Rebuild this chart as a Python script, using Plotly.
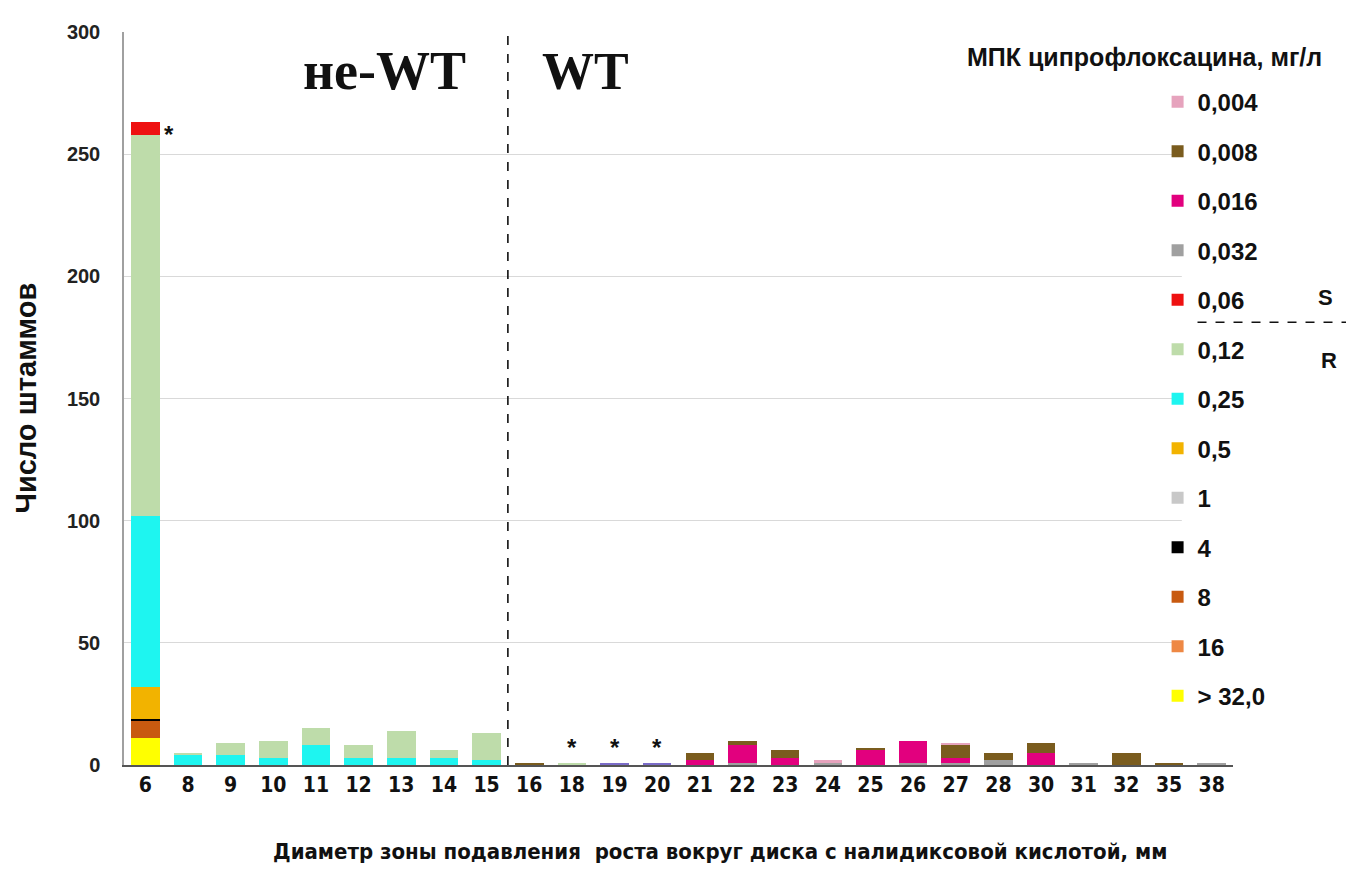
import plotly.graph_objects as go

# Inhibition zone diameter around the nalidixic acid disk, mm
diameters = ["6", "8", "9", "10", "11", "12", "13", "14", "15", "16", "18", "19", "20",
             "21", "22", "23", "24", "25", "26", "27", "28", "30", "31", "32", "35", "38"]

# Number of strains per ciprofloxacin MIC (mg/l), one list per MIC class
mic_gt32 = [11, 0, 0, 0, 0, 0, 0, 0, 0, 0, 0, 0, 0, 0, 0, 0, 0, 0, 0, 0, 0, 0, 0, 0, 0, 0]
mic_16   = [0] * 26
mic_8    = [7, 0, 0, 0, 0, 0, 0, 0, 0, 0, 0, 0, 0, 0, 0, 0, 0, 0, 0, 0, 0, 0, 0, 0, 0, 0]
mic_4    = [1, 0, 0, 0, 0, 0, 0, 0, 0, 0, 0, 0, 0, 0, 0, 0, 0, 0, 0, 0, 0, 0, 0, 0, 0, 0]
mic_1    = [0] * 26
mic_05   = [13, 0, 0, 0, 0, 0, 0, 0, 0, 0, 0, 0, 0, 0, 0, 0, 0, 0, 0, 0, 0, 0, 0, 0, 0, 0]
mic_025  = [70, 4, 4, 3, 8, 3, 3, 3, 2, 0, 0, 0, 0, 0, 0, 0, 0, 0, 0, 0, 0, 0, 0, 0, 0, 0]
mic_012  = [156, 1, 5, 7, 7, 5, 11, 3, 11, 0, 1, 0, 0, 0, 0, 0, 0, 0, 0, 0, 0, 0, 0, 0, 0, 0]
mic_006  = [5, 0, 0, 0, 0, 0, 0, 0, 0, 0, 0, 0, 0, 0, 0, 0, 0, 0, 0, 0, 0, 0, 0, 0, 0, 0]
mic_0032 = [0, 0, 0, 0, 0, 0, 0, 0, 0, 0, 0, 0, 0, 0, 1, 0, 1, 0, 1, 1, 2, 0, 1, 0, 0, 1]
mic_0016 = [0, 0, 0, 0, 0, 0, 0, 0, 0, 0, 0, 0, 0, 2, 7, 3, 0, 6, 9, 2, 0, 5, 0, 0, 0, 0]
mic_0008 = [0, 0, 0, 0, 0, 0, 0, 0, 0, 1, 0, 0, 0, 3, 2, 3, 0, 1, 0, 5, 3, 4, 0, 5, 1, 0]
mic_0004 = [0, 0, 0, 0, 0, 0, 0, 0, 0, 0, 0, 0, 0, 0, 0, 0, 1, 0, 0, 1, 0, 0, 0, 0, 0, 0]
marked   = [0, 0, 0, 0, 0, 0, 0, 0, 0, 0, 0, 1, 1, 0, 0, 0, 0, 0, 0, 0, 0, 0, 0, 0, 0, 0]

# Groups flagged with an asterisk
starred = ["18", "19", "20"]

# Stacked bottom to top
series = [
    ("> 32,0", mic_gt32, "#ffff00"),
    ("16", mic_16, "#ee8844"),
    ("8", mic_8, "#c85a10"),
    ("4", mic_4, "#000000"),
    ("1", mic_1, "#c8c8c8"),
    ("0,5", mic_05, "#f2b300"),
    ("0,25", mic_025, "#1ef5f0"),
    ("0,12", mic_012, "#bedcaa"),
    ("0,06", mic_006, "#ee1111"),
    ("0,032", mic_0032, "#a0a0a0"),
    ("0,016", mic_0016, "#e2007e"),
    ("0,008", mic_0008, "#7a5c1e"),
    ("0,004", mic_0004, "#e6a3bd"),
]

fig = go.Figure()
n = len(series)
for i, (name, vals, color) in enumerate(series):
    fig.add_trace(go.Bar(x=diameters, y=vals, name=name, marker_color=color,
                         marker_line_width=0, legendgroup=f"g{i}", legendrank=n - i))
    if name == "0,06":
        fig.add_trace(go.Bar(x=diameters, y=marked, name="", marker_color="#7b6cc8",
                             marker_line_width=0, showlegend=False))

font_main = "Liberation Sans, Arial, sans-serif"
font_narrow = "Liberation Sans Narrow, DejaVu Sans Condensed, Arial Narrow, sans-serif"
serif = "Liberation Serif, Times New Roman, serif"
ink = "#111111"
last = len(diameters) - 0.5

fig.update_layout(
    width=1346, height=875,
    margin=dict(l=124, r=113, t=32, b=110),
    paper_bgcolor="white", plot_bgcolor="white",
    barmode="stack", bargap=0.33,
    showlegend=True,
    legend=dict(
        x=0.932, xanchor="left", y=0.935, yanchor="top",
        traceorder="grouped", tracegroupgap=15.3,
        font=dict(family=font_main, size=24, color=ink, weight="bold"),
        bgcolor="rgba(0,0,0,0)", itemwidth=30,
    ),
    xaxis=dict(
        type="category", range=[-0.5, last], showgrid=False, showline=True,
        linecolor="#555555", linewidth=1.5,
        ticks="", tickfont=dict(family=font_narrow, size=21, color=ink, weight="bold"),
    ),
    yaxis=dict(
        range=[0, 300], dtick=50, showgrid=True, gridcolor="#d9d9d9", gridwidth=1,
        showline=True, linecolor="#a0a0a0", linewidth=1.5, ticks="", zeroline=False,
        ticklabelstandoff=18,
        tickfont=dict(family=font_main, size=20, color="#222222", weight="bold"),
    ),
)

# White panel behind the legend hides the gridlines there
fig.add_shape(type="rect", xref="x", yref="y", x0=24.3, x1=last, y0=25, y1=300,
              fillcolor="white", line_width=0, layer="between")

# Boundary between non-wild-type and wild-type populations
fig.add_shape(type="line", xref="x", yref="y", x0=8.5, x1=8.5, y0=0, y1=300,
              line=dict(color=ink, width=1.6, dash="dash"))

# S / R breakpoint marker next to the legend
fig.add_shape(type="line", xref="paper", yref="paper", x0=0.968, x1=1.105, y0=0.604, y1=0.604,
              line=dict(color=ink, width=1.5, dash="dash"))

fig.add_annotation(xref="paper", yref="y", x=0.235, y=284, text="не-WT", showarrow=False,
                   xanchor="center", font=dict(family=serif, size=54, color=ink, weight="bold"))
fig.add_annotation(xref="paper", yref="y", x=0.416, y=284, text="WT", showarrow=False,
                   xanchor="center", font=dict(family=serif, size=52, color=ink, weight="bold"))

fig.add_annotation(xref="paper", yref="paper", x=0.92, y=0.966, text="МПК ципрофлоксацина, мг/л",
                   showarrow=False, xanchor="center", yanchor="middle",
                   font=dict(family=font_main, size=25, color=ink, weight="bold"))
fig.add_annotation(xref="paper", yref="paper", x=1.083, y=0.638, text="S", showarrow=False,
                   xanchor="center", yanchor="middle",
                   font=dict(family=font_main, size=22, color=ink, weight="bold"))
fig.add_annotation(xref="paper", yref="paper", x=1.087, y=0.552, text="R", showarrow=False,
                   xanchor="center", yanchor="middle",
                   font=dict(family=font_main, size=22, color=ink, weight="bold"))

# Asterisks over marked groups
fig.add_annotation(x=diameters.index("6"), y=258, xref="x", yref="y", text="*", showarrow=False,
                   xshift=24, font=dict(family=font_main, size=24, color=ink, weight="bold"))
for d in starred:
    fig.add_annotation(x=diameters.index(d), y=1, xref="x", yref="y", text="*", showarrow=False,
                       yanchor="bottom", font=dict(family=font_main, size=24, color=ink, weight="bold"))

# Axis titles
fig.add_annotation(xref="paper", yref="paper", x=0, y=0.5, xshift=-99, text="Число штаммов",
                   textangle=-90, showarrow=False, xanchor="center",
                   font=dict(family=font_main, size=29, color=ink, weight="bold"))
fig.add_annotation(xref="paper", yref="paper", x=0.537, y=0, yshift=-101,
                   text="Диаметр зоны подавления  роста вокруг диска с налидиксовой кислотой, мм",
                   showarrow=False, xanchor="center",
                   font=dict(family=font_narrow, size=22, color=ink, weight="bold"))

fig.write_html("out.html")
